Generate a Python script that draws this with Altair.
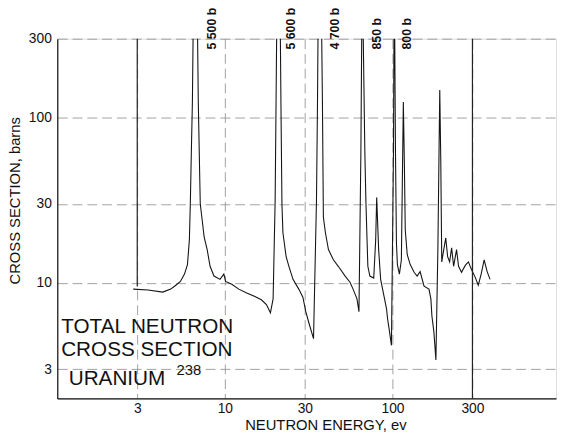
import altair as alt
import pandas as pd

# ---- data (neutron energy in eV, total cross section in barns) ----
energy = [2.84, 3.48, 4.26, 4.75, 5.01, 5.43, 5.74, 5.98, 6.14, 6.22, 6.31, 6.40,
          6.66,
          6.94, 7.03, 7.13, 7.32, 7.52, 7.84, 8.16, 8.61, 9.35, 9.86, 10.1, 11.0, 12.1,
          13.5, 15.0, 16.5, 17.7, 18.7, 19.4,
          19.95, 20.2, 20.9,
          21.6, 21.9, 22.2, 23.2, 24.1, 25.5, 27.6, 29.2, 30.4, 31.6, 33.8,
          35.2, 35.7, 36.7,
          38.2, 38.7, 39.8, 41.5, 44.4, 47.5, 52.2, 55.8, 58.2, 61.4, 63.1,
          64.8, 66.0,
          68.4, 69.4, 70.3, 71.3, 73.3, 77.3, 79.4, 80.5, 82.7, 85.0, 87.3, 89.7,
          92.2, 93.5, 96.0, 98.6,
          101.4, 102.5,
          104.2, 105.6, 107.0, 110.0, 113.0, 116.1, 117.7, 119.2, 122.5, 127.6,
          134.6, 140.3, 146.2, 154.3, 165.1, 169.5, 171.9, 176.6, 181.6,
          186.6, 191.5, 194.2, 196.8, 202.3, 207.9, 213.4, 219.3, 225.4, 231.6,
          241.2, 247.9, 258.2, 272.4, 283.8, 295.6, 311.9, 325.0, 338.2, 352.4,
          367.2, 382.1]

sigma = [9.17, 9.05, 8.8, 9.17, 9.55, 10.2, 11.3, 12.9, 18.2, 30.1, 62.7, 124,
         5500,
         124, 62.7, 30.1, 24.0, 19.0, 15.9, 12.6, 11.0, 10.5, 11.3, 10.2, 9.8, 9.17,
         8.7, 8.3, 7.9, 7.4, 6.6, 8.0,
         31.5, 124, 5600,
         124, 30.1, 20.1, 14.4, 12.6, 10.5, 9.17, 8.2, 6.7, 5.8, 4.6,
         31.5, 124, 4700,
         124, 25.0, 20.1, 15.9, 13.8, 12.6, 11.0, 10.1, 9.17, 8.0, 6.7,
         62.7, 850,
         62.7, 31.5, 20.1, 12.6, 11.0, 10.7, 18.2, 32.9, 15.9, 10.5, 9.17, 8.0,
         6.95, 6.07, 5.07, 4.19,
         62.7, 800,
         62.7, 17.5, 12.9, 11.3, 13.8, 124, 54.7, 20.9, 14.8, 12.9,
         11.6, 11.0, 11.7, 9.55, 9.17, 8.0, 6.32, 5.07, 3.42,
         15.9, 147, 54.7, 13.4, 15.9, 18.7, 14.4, 13.4, 16.3, 12.6,
         15.9, 12.6, 11.6, 12.8, 13.4, 12.1, 10.8, 9.68, 11.3, 13.8,
         11.7, 10.5]

x_ticks = [3, 10, 30, 100, 300]
y_ticks = [3, 10, 30, 100, 300]

# peak value labels
peak_text = ["5 500 b", "5 600 b", "4 700 b", "850 b", "800 b"]
peak_label_x = [8.38, 24.8, 45.6, 80.5, 122.5]
peak_label_y = [258, 258, 258, 258, 258]

# solid reference verticals
solid_x = [3, 300]
solid_top = [300, 300]
solid_bottom = [9.5, 2]

# annotation
note_text = ["TOTAL NEUTRON", "CROSS SECTION", "URANIUM"]
note_x = [1.055, 1.055, 1.17]
note_y = [5.4, 3.9, 2.63]
sup_text = ["238"]
sup_x = [5.15]
sup_y = [2.99]

FONT = "Liberation Sans"

df = pd.DataFrame({"energy": energy, "sigma": sigma})
x_scale = alt.Scale(type="log", domain=[1, 946], nice=False)
y_scale = alt.Scale(type="log", domain=[2, 300], nice=False)

line = alt.Chart(df).mark_line(color="#151515", strokeWidth=1.1, clip=True).encode(
    x=alt.X("energy:Q", scale=x_scale,
            axis=alt.Axis(values=x_ticks, format="d", title="NEUTRON ENERGY, ev",
                          grid=True, gridDash=[10, 5], gridColor="#8a8a8a", gridWidth=0.8,
                          ticks=False, labelFontSize=14, labelPadding=3,
                          labelColor="#111", domainColor="#111", domainWidth=1.2,
                          titleFontSize=15, titleFontWeight="normal", titleColor="#111",
                          titleX=272, titleY=26, titleBaseline="middle")),
    y=alt.Y("sigma:Q", scale=y_scale,
            axis=alt.Axis(values=y_ticks, format="d", title="CROSS SECTION, barns",
                          grid=True, gridDash=[10, 5], gridColor="#8a8a8a", gridWidth=0.8,
                          ticks=False, labelFontSize=14, labelPadding=6,
                          labelColor="#111", domainColor="#111", domainWidth=1.2,
                          titleFontSize=15, titleFontWeight="normal", titleColor="#111",
                          titleX=-43, titleY=164, titleBaseline="middle")),
)

solid_df = pd.DataFrame({"x": solid_x, "top": solid_top, "bottom": solid_bottom})
solid = alt.Chart(solid_df).mark_rule(color="#222", strokeWidth=1.2).encode(
    x=alt.X("x:Q", scale=x_scale),
    y=alt.Y("top:Q", scale=y_scale),
    y2="bottom:Q",
)

peak_df = pd.DataFrame({"t": peak_text, "x": peak_label_x, "y": peak_label_y})
peaks = alt.Chart(peak_df).mark_text(angle=270, align="left", baseline="middle",
                                     fontSize=12.5, font=FONT, color="#111",
                                     fontWeight="bold").encode(
    x=alt.X("x:Q", scale=x_scale), y=alt.Y("y:Q", scale=y_scale), text="t:N")

note_df = pd.DataFrame({"t": note_text, "x": note_x, "y": note_y})
note = alt.Chart(note_df).mark_text(align="left", baseline="middle", fontSize=21,
                                    font=FONT, color="#111").encode(
    x=alt.X("x:Q", scale=x_scale), y=alt.Y("y:Q", scale=y_scale), text="t:N")

sup_df = pd.DataFrame({"t": sup_text, "x": sup_x, "y": sup_y})
sup = alt.Chart(sup_df).mark_text(align="left", baseline="middle", fontSize=15,
                                  font=FONT, color="#111").encode(
    x=alt.X("x:Q", scale=x_scale), y=alt.Y("y:Q", scale=y_scale), text="t:N")

chart = alt.layer(line, solid, peaks, note, sup).properties(
    width=506, height=365,
    autosize=alt.AutoSizeParams(type="none"),
    padding={"left": 50, "top": 28, "right": 2, "bottom": 38},
).configure_view(stroke="#222", strokeWidth=1.1).configure_axis(
    labelFont=FONT, titleFont=FONT
).configure(background="white")

chart.save("out.html", embed_options={"renderer": "svg", "actions": False})
